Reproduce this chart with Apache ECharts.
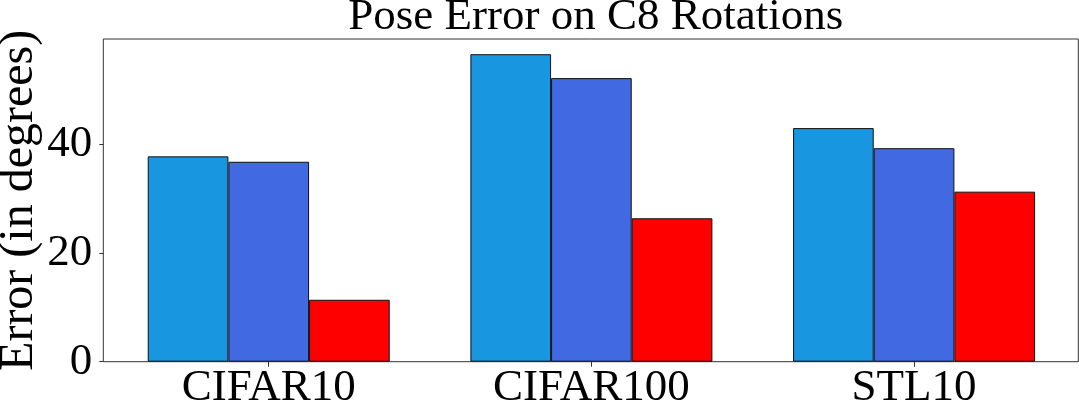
<!DOCTYPE html>
<html>
<head>
<meta charset="utf-8">
<script src="https://cdn.jsdelivr.net/npm/echarts@6/dist/echarts.min.js"></script>
<style>
  html, body { margin: 0; padding: 0; background: #fff; }
  #chart { width: 1079px; height: 411px; }
</style>
</head>
<body>
<div id="chart"></div>
<script>
var categories = ['CIFAR10', 'CIFAR100', 'STL10'];
var seriesNames = ['Method 1', 'Method 2', 'Method 3'];
var method1 = [37.8, 56.6, 43.0];
var method2 = [36.8, 52.2, 39.3];
var method3 = [11.4, 26.4, 31.3];
var yMin = 0;
var yMax = 59.4;
var yInterval = 20;
var colors = ['#1996e0', '#4169e1', '#ff0000'];

var FONT = '"Liberation Serif", "Times New Roman", serif';
var chart = echarts.init(document.getElementById('chart'), null, { renderer: 'canvas' });

var seriesData = [method1, method2, method3];
var series = seriesData.map(function (d, i) {
  return {
    name: seriesNames[i],
    type: 'bar',
    xAxisIndex: 0,
    yAxisIndex: 0,
    data: d,
    barWidth: '25%',
    barGap: '0%',
    itemStyle: { color: colors[i], borderColor: '#111', borderWidth: 1 },
    emphasis: { disabled: true },
    animation: false
  };
});

chart.setOption({
  animation: false,
  title: {
    text: 'Pose Error on C8 Rotations',
    left: 590.8,
    textAlign: 'center',
    top: -10,
    textStyle: { fontFamily: FONT, fontSize: 45, fontWeight: 'normal', color: '#000' }
  },
  grid: [
    { left: 107.4, top: 39, width: 968, height: 322.7, containLabel: false, outerBoundsMode: 'none' },
    { left: 103.3, top: 39, width: 975, height: 322.7, show: true, borderColor: '#333', borderWidth: 1, backgroundColor: 'transparent', containLabel: false, outerBoundsMode: 'none' }
  ],
  xAxis: [
    {
      type: 'category',
      gridIndex: 0,
      data: categories,
      axisLine: { show: false },
      axisTick: { show: true, alignWithLabel: true, length: 5, lineStyle: { color: '#333', width: 1 } },
      axisLabel: { fontFamily: FONT, fontSize: 45, color: '#000', margin: 4 },
      splitLine: { show: false }
    },
    { type: 'value', gridIndex: 1, show: false, min: 0, max: 1 }
  ],
  yAxis: [
    { type: 'value', gridIndex: 0, show: false, min: yMin, max: yMax },
    {
      type: 'value',
      gridIndex: 1,
      min: yMin,
      max: yMax,
      interval: yInterval,
      name: 'Error (in degrees)',
      nameLocation: 'middle',
      nameGap: 60,
      nameMoveOverlap: false,
      nameTextStyle: { fontFamily: FONT, fontSize: 48, color: '#000' },
      axisLine: { show: false },
      axisTick: { show: true, length: 4, lineStyle: { color: '#333', width: 1 } },
      axisLabel: { fontFamily: FONT, fontSize: 45, color: '#000', margin: 11, showMaxLabel: false },
      splitLine: { show: false }
    }
  ],
  series: series
});
</script>
</body>
</html>
